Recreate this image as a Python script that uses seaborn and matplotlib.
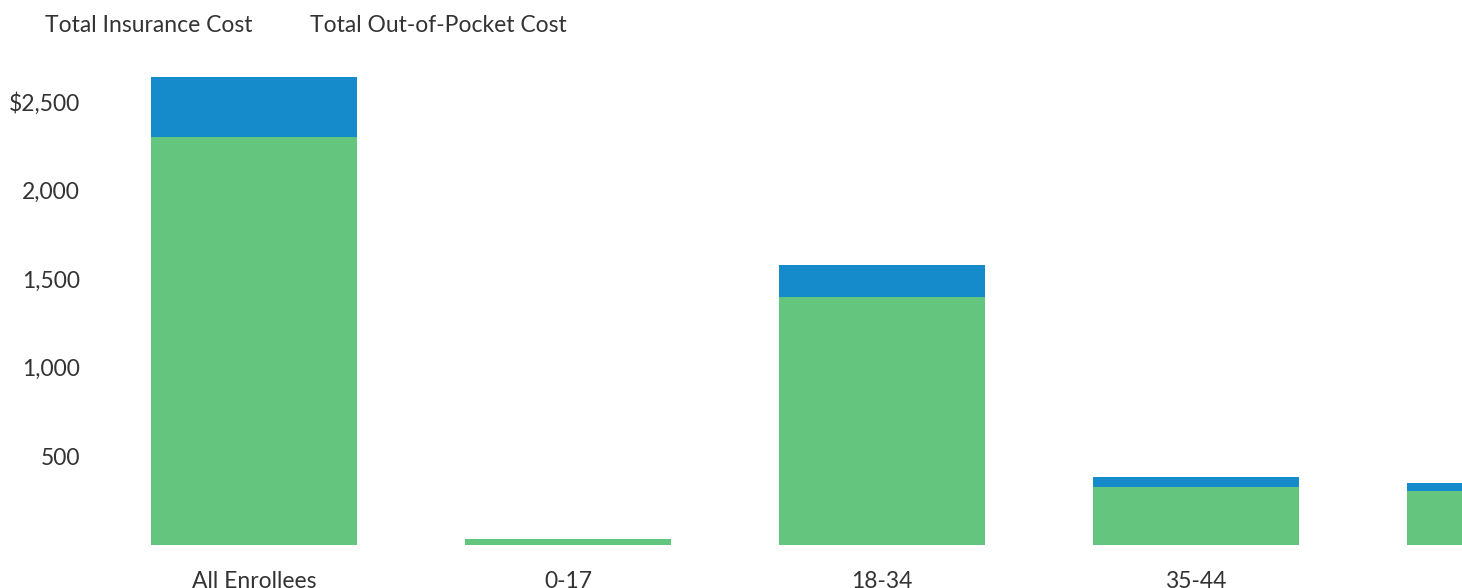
import matplotlib
matplotlib.use("Agg")
import matplotlib.pyplot as plt
import seaborn as sns
import pandas as pd

# Average annual cost per enrollee, by age group
age_groups = ["All Enrollees", "0-17", "18-34", "35-44", "45-54"]
insurance_cost = [2300, 34, 1398, 327, 304]
out_of_pocket_cost = [338, 1, 180, 56, 45]

series_labels = ["Total Insurance Cost", "Total Out-of-Pocket Cost"]
y_ticks = [500, 1000, 1500, 2000, 2500]
y_tick_labels = ["500", "1,000", "1,500", "2,000", "$2,500"]

GREEN = "#64C57F"
BLUE = "#168BCB"
TEXT = "#333333"
FS = 16.5

sns.set_theme(style="white")
plt.rcParams["font.family"] = ["Lato", "DejaVu Sans"]

df = pd.DataFrame({
    "group": age_groups,
    "insurance": insurance_cost,
    "oop": out_of_pocket_cost,
})
df["total"] = df["insurance"] + df["oop"]

fig = plt.figure(figsize=(14.62, 5.88), dpi=100)
ax = fig.add_axes([100 / 1462, 43 / 588, 1362 / 1462, 479 / 588])

bar_w = 0.656
# Stacked bars: full height in blue, insurance portion in green over it
sns.barplot(data=df, x="group", y="total", color=BLUE, saturation=1,
            width=bar_w, ax=ax, label=series_labels[1], linewidth=0)
sns.barplot(data=df, x="group", y="insurance", color=GREEN, saturation=1,
            width=bar_w, ax=ax, label=series_labels[0], linewidth=0)

ax.set_xlim(-0.4904, 3.8471)
ax.set_ylim(0, 2700)
ax.set_yticks(y_ticks)
ax.set_yticklabels(y_tick_labels)
ax.set_xlabel("")
ax.set_ylabel("")
ax.tick_params(axis="y", length=0, pad=14.4, labelsize=FS, labelcolor=TEXT)
ax.tick_params(axis="x", length=0, pad=18.5, labelsize=FS, labelcolor=TEXT)
for s in ax.spines.values():
    s.set_visible(False)
ax.grid(False)

if ax.get_legend() is not None:
    ax.get_legend().remove()
handles, labels = ax.get_legend_handles_labels()
order = [labels.index(series_labels[0]), labels.index(series_labels[1])]
leg = fig.legend([handles[i] for i in order], [labels[i] for i in order],
                 loc="upper left", bbox_to_anchor=(45 / 1462, 1 - 15 / 588),
                 ncol=2, frameon=False, handlelength=0, handletextpad=0,
                 borderpad=0, borderaxespad=0, columnspacing=2.5,
                 fontsize=FS, labelcolor=TEXT)
for h in leg.legend_handles:
    h.set_visible(False)

fig.savefig("out.png", dpi=100, facecolor="white")
